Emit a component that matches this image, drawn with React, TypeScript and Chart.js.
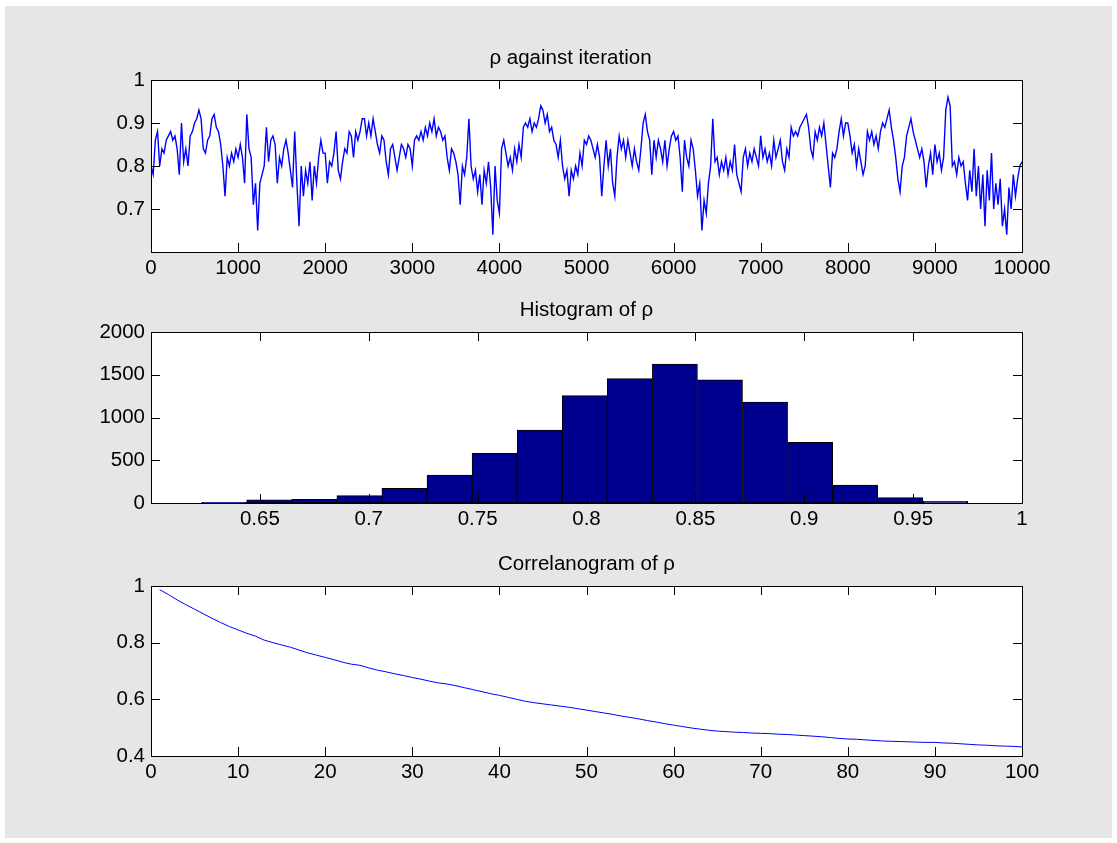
import React, { useEffect, useRef } from "react";
import { Chart, registerables } from "chart.js";

Chart.register(...registerables);

// ---------- Trace of rho (one value every TRACE_STEP iterations) ----------
const TRACE_STEP = 25;
const traceSeg1 = [
  0.80, 0.78, 0.86, 0.88, 0.80, 0.84, 0.83, 0.86, 0.87, 0.88,
  0.86, 0.87, 0.84, 0.78, 0.90, 0.81, 0.84, 0.80, 0.87, 0.88,
  0.90, 0.91, 0.93, 0.91, 0.84, 0.83, 0.86, 0.87, 0.91, 0.92,
  0.89, 0.88, 0.85, 0.80, 0.73, 0.82, 0.80, 0.83, 0.81, 0.84,
  0.82, 0.85, 0.82, 0.76, 0.92, 0.84, 0.82, 0.71, 0.76, 0.65,
  0.76, 0.78, 0.80, 0.89, 0.81, 0.86, 0.87, 0.85, 0.76, 0.82,
  0.80, 0.84, 0.86, 0.83, 0.79, 0.75, 0.88, 0.76, 0.66, 0.80,
  0.73, 0.79, 0.76, 0.81, 0.72, 0.80, 0.76, 0.82, 0.86, 0.83,
];
const traceSeg2 = [
  0.83, 0.76, 0.81, 0.80, 0.83, 0.88, 0.79, 0.77, 0.81, 0.84,
  0.83, 0.88, 0.87, 0.82, 0.88, 0.86, 0.88, 0.91, 0.91, 0.87,
  0.90, 0.87, 0.91, 0.88, 0.85, 0.83, 0.87, 0.86, 0.81, 0.78,
  0.84, 0.85, 0.82, 0.79, 0.82, 0.85, 0.84, 0.82, 0.85, 0.84,
  0.80, 0.86, 0.87, 0.86, 0.88, 0.86, 0.89, 0.87, 0.90, 0.88,
  0.91, 0.87, 0.89, 0.88, 0.86, 0.87, 0.82, 0.79, 0.84, 0.83,
  0.81, 0.78, 0.71, 0.80, 0.78, 0.82, 0.91, 0.80, 0.77, 0.79,
  0.74, 0.78, 0.71, 0.79, 0.76, 0.81, 0.75, 0.64, 0.80, 0.72,
];
const traceSeg3 = [
  0.69, 0.84, 0.86, 0.83, 0.80, 0.82, 0.79, 0.84, 0.81, 0.85,
  0.82, 0.89, 0.90, 0.89, 0.91, 0.88, 0.90, 0.89, 0.91, 0.94,
  0.93, 0.90, 0.92, 0.88, 0.89, 0.86, 0.85, 0.82, 0.86, 0.80,
  0.77, 0.79, 0.73, 0.79, 0.77, 0.80, 0.78, 0.83, 0.80, 0.86,
  0.85, 0.87, 0.86, 0.84, 0.82, 0.85, 0.82, 0.73, 0.80, 0.86,
  0.80, 0.84, 0.76, 0.73, 0.82, 0.87, 0.84, 0.86, 0.82, 0.86,
  0.83, 0.80, 0.84, 0.81, 0.79, 0.84, 0.90, 0.92, 0.88, 0.86,
  0.78, 0.86, 0.82, 0.86, 0.84, 0.81, 0.86, 0.80, 0.84, 0.87,
];
const traceSeg4 = [
  0.88, 0.86, 0.87, 0.82, 0.74, 0.86, 0.82, 0.80, 0.86, 0.84,
  0.79, 0.73, 0.76, 0.65, 0.72, 0.69, 0.76, 0.80, 0.91, 0.81,
  0.82, 0.78, 0.81, 0.79, 0.82, 0.78, 0.81, 0.79, 0.85, 0.78,
  0.76, 0.74, 0.82, 0.84, 0.80, 0.83, 0.81, 0.84, 0.82, 0.80,
  0.87, 0.82, 0.84, 0.81, 0.83, 0.80, 0.86, 0.82, 0.84, 0.86,
  0.81, 0.79, 0.84, 0.82, 0.89, 0.87, 0.88, 0.87, 0.89, 0.90,
  0.91, 0.92, 0.89, 0.84, 0.82, 0.88, 0.86, 0.89, 0.87, 0.90,
  0.85, 0.80, 0.75, 0.83, 0.82, 0.84, 0.88, 0.91, 0.87, 0.90,
];
const traceSeg5 = [
  0.90, 0.87, 0.83, 0.85, 0.80, 0.84, 0.81, 0.78, 0.80, 0.88,
  0.86, 0.88, 0.85, 0.87, 0.84, 0.88, 0.90, 0.89, 0.91, 0.93,
  0.89, 0.86, 0.82, 0.77, 0.74, 0.80, 0.82, 0.87, 0.89, 0.91,
  0.88, 0.86, 0.84, 0.82, 0.84, 0.81, 0.75, 0.80, 0.83, 0.78,
  0.85, 0.81, 0.83, 0.79, 0.82, 0.93, 0.96, 0.94, 0.80, 0.81,
  0.78, 0.82, 0.80, 0.81, 0.76, 0.72, 0.79, 0.74, 0.84, 0.73,
  0.80, 0.70, 0.78, 0.66, 0.79, 0.72, 0.83, 0.70, 0.76, 0.71,
  0.77, 0.66, 0.70, 0.64, 0.75, 0.70, 0.78, 0.73, 0.77, 0.80,
  0.81,
];
const traceValues = [...traceSeg1, ...traceSeg2, ...traceSeg3, ...traceSeg4, ...traceSeg5];
const traceXTicks = [0, 1000, 2000, 3000, 4000, 5000, 6000, 7000, 8000, 9000, 10000];
const traceYTicks = [0.7, 0.8, 0.9, 1];

// ---------- Histogram of rho ----------
const histBinCenters = [
  0.6336, 0.6543, 0.6750, 0.6957, 0.7164, 0.7371, 0.7578, 0.7785, 0.7992,
  0.8199, 0.8406, 0.8613, 0.8820, 0.9027, 0.9234, 0.9441, 0.9648,
];
const histCounts = [8, 38, 42, 86, 172, 327, 581, 854, 1255, 1454, 1626, 1442, 1181, 710, 211, 62, 20];
const histXTicks = [0.65, 0.7, 0.75, 0.8, 0.85, 0.9, 0.95, 1];
const histYTicks = [0, 500, 1000, 1500, 2000];

// ---------- Correlogram (lags 1..100) ----------
const acfValues = [
  0.987, 0.970, 0.951, 0.934, 0.918, 0.902, 0.886, 0.871, 0.857, 0.845,
  0.833, 0.823, 0.809, 0.800, 0.792, 0.784, 0.774, 0.764, 0.756, 0.748,
  0.740, 0.731, 0.724, 0.720, 0.711, 0.703, 0.697, 0.690, 0.684, 0.677,
  0.671, 0.664, 0.658, 0.654, 0.648, 0.641, 0.634, 0.627, 0.620, 0.614,
  0.607, 0.600, 0.593, 0.588, 0.584, 0.580, 0.576, 0.572, 0.567, 0.562,
  0.557, 0.552, 0.547, 0.541, 0.536, 0.531, 0.525, 0.520, 0.514, 0.509,
  0.504, 0.499, 0.495, 0.491, 0.488, 0.486, 0.484, 0.483, 0.481, 0.480,
  0.479, 0.477, 0.476, 0.474, 0.472, 0.470, 0.468, 0.465, 0.462, 0.460,
  0.459, 0.457, 0.455, 0.453, 0.452, 0.451, 0.450, 0.449, 0.448, 0.448,
  0.446, 0.445, 0.443, 0.441, 0.439, 0.438, 0.436, 0.435, 0.434, 0.432,
];
const acfXTicks = [0, 10, 20, 30, 40, 50, 60, 70, 80, 90, 100];
const acfYTicks = [0.4, 0.6, 0.8, 1];

const FONT = '"Liberation Sans", Arial, Helvetica, sans-serif';
const FONT_SIZE = 20.5;

Chart.defaults.font.family = FONT;
Chart.defaults.color = "#000";

const matlabBox = {
  id: "matlabBox",
  beforeDraw(chart: any) {
    const { ctx, chartArea } = chart;
    const { left, right, top, bottom } = chartArea;
    ctx.save();
    ctx.fillStyle = "#ffffff";
    ctx.fillRect(left, top, right - left, bottom - top);
    ctx.restore();
  },
  afterDraw(chart: any, _args: any, opts: any) {
    const { ctx, chartArea } = chart;
    const { left, right, top, bottom } = chartArea;
    const xs = chart.scales.x;
    const ys = chart.scales.y;
    const TL = 9;
    ctx.save();
    ctx.strokeStyle = "#000";
    ctx.lineWidth = 1;
    ctx.beginPath();
    xs.ticks.forEach((t: any) => {
      const px = Math.round(xs.getPixelForValue(t.value)) + 0.5;
      if (px <= left + 2 || px >= right - 2) return;
      ctx.moveTo(px, bottom);
      ctx.lineTo(px, bottom - TL);
      ctx.moveTo(px, top);
      ctx.lineTo(px, top + TL);
    });
    ys.ticks.forEach((t: any) => {
      const py = Math.round(ys.getPixelForValue(t.value)) + 0.5;
      if (py <= top + 2 || py >= bottom - 2) return;
      ctx.moveTo(left, py);
      ctx.lineTo(left + TL, py);
      ctx.moveTo(right, py);
      ctx.lineTo(right - TL, py);
    });
    ctx.stroke();
    ctx.strokeRect(Math.round(left) + 0.5, Math.round(top) + 0.5, Math.round(right - left), Math.round(bottom - top));
    if (opts && opts.title) {
      ctx.fillStyle = "#000";
      ctx.font = `${FONT_SIZE}px ${FONT}`;
      ctx.textAlign = "center";
      ctx.textBaseline = "middle";
      ctx.fillText(opts.title, (left + right) / 2 + (opts.dx || 0), top - 22);
    }
    ctx.restore();
  },
};

const fmt = (v: any) => String(+Number(v).toFixed(3));

function axis(min: number, max: number, ticks: number[], fit: number, horizontal: boolean) {
  return {
    type: "linear",
    min,
    max,
    offset: false,
    grid: { display: false, drawTicks: false },
    border: { display: false },
    afterBuildTicks: (s: any) => {
      s.ticks = ticks.map((v) => ({ value: v }));
    },
    afterFit: (s: any) => {
      if (horizontal) s.height = fit;
      else s.width = fit;
    },
    ticks: {
      autoSkip: false,
      maxRotation: 0,
      minRotation: 0,
      color: "#000",
      font: { size: FONT_SIZE, family: FONT },
      padding: horizontal ? 4 : 6,
      callback: fmt,
    },
  };
}

function baseOptions(padTop: number, xFit: number, x: any, y: any, title: string, dx: number) {
  return {
    responsive: false,
    animation: false,
    devicePixelRatio: 1,
    layout: { padding: { left: 0, right: 95, top: padTop, bottom: 0 } },
    scales: {
      x: axis(x.min, x.max, x.ticks, xFit, true),
      y: axis(y.min, y.max, y.ticks, 151, false),
    },
    plugins: {
      legend: { display: false },
      tooltip: { enabled: false },
      title: { display: false },
      matlabBox: { title, dx },
    },
    events: [],
  };
}

function traceConfig() {
  return {
    type: "line",
    data: {
      datasets: [
        {
          data: traceValues.map((v, i) => ({ x: i * TRACE_STEP, y: v })),
          borderColor: "#0000ff",
          borderWidth: 1.4,
          pointRadius: 0,
          tension: 0,
          fill: false,
        },
      ],
    },
    options: baseOptions(
      50,
      38,
      { min: 0, max: 10000, ticks: traceXTicks },
      { min: 0.6, max: 1, ticks: traceYTicks },
      "\u03c1 against iteration",
      -16
    ),
    plugins: [matlabBox],
  };
}

function histConfig() {
  return {
    type: "bar",
    data: {
      datasets: [
        {
          data: histBinCenters.map((c, i) => ({ x: c, y: histCounts[i] })),
          backgroundColor: "#00008f",
          borderColor: "#000",
          borderWidth: 1,
          borderSkipped: false,
          barPercentage: 1,
          categoryPercentage: 1,
          grouped: false,
        },
      ],
    },
    options: baseOptions(
      32,
      42,
      { min: 0.6, max: 1, ticks: histXTicks },
      { min: 0, max: 2000, ticks: histYTicks },
      "Histogram of \u03c1",
      0
    ),
    plugins: [matlabBox],
  };
}

function acfConfig() {
  return {
    type: "line",
    data: {
      datasets: [
        {
          data: acfValues.map((v, i) => ({ x: i + 1, y: v })),
          borderColor: "#0000ff",
          borderWidth: 1,
          pointRadius: 0,
          tension: 0,
          fill: false,
        },
      ],
    },
    options: baseOptions(
      36,
      44,
      { min: 0, max: 100, ticks: acfXTicks },
      { min: 0.4, max: 1, ticks: acfYTicks },
      "Correlanogram of \u03c1",
      0
    ),
    plugins: [matlabBox],
  };
}

function Subplot({ top, height, build }: { top: number; height: number; build: () => any }) {
  const ref = useRef<HTMLCanvasElement | null>(null);
  useEffect(() => {
    if (!ref.current) return;
    const chart = new Chart(ref.current, build());
    return () => chart.destroy();
  }, []);
  return (
    <div style={{ position: "absolute", left: 0, top, width: 1117, height }}>
      <canvas ref={ref} width={1117} height={height} style={{ display: "block", width: 1117, height }} />
    </div>
  );
}

export default function App() {
  return (
    <div style={{ position: "absolute", left: 0, top: 0, width: 1117, height: 843, background: "#fff", overflow: "hidden" }}>
      <div style={{ position: "absolute", left: 5, top: 6, width: 1107, height: 832, background: "#e6e6e6" }} />
      <Subplot top={30} height={260} build={traceConfig} />
      <Subplot top={300} height={245} build={histConfig} />
      <Subplot top={550} height={250} build={acfConfig} />
    </div>
  );
}
